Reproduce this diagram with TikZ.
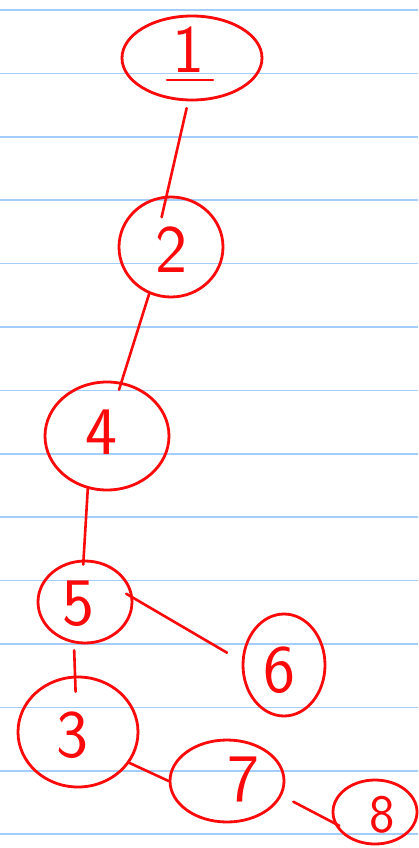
\documentclass[tikz,border=0pt]{standalone}
\usepackage{tikz}
\usetikzlibrary{shapes.geometric}
\definecolor{ink}{RGB}{250,10,10}
\definecolor{rule}{RGB}{165,205,250}

\begin{document}
\begin{tikzpicture}[
    x=1pt, y=-1pt,
    vertex/.style={draw=ink, ellipse, line width=2.8pt, inner sep=0pt},
    digit/.style={text=ink, inner sep=0pt, font=\fontsize{68}{68}\sffamily},
    edge/.style={draw=ink, line width=2.6pt, line cap=round}
]
    % paper and ruled lines
    \fill[white] (0,0) rectangle (418,848);
    \useasboundingbox (0,0) rectangle (418,848);
    \foreach \k in {0,...,13}
        \draw[rule, line width=1.6pt] (0,{10+63.4*\k}) -- (418,{10+63.4*\k});

    \node[vertex, minimum width=140pt, minimum height=84pt] (n1) at (192,58) {};
    \node[vertex, minimum width=104pt, minimum height=100pt] (n2) at (171,247) {};
    \node[vertex, minimum width=124pt, minimum height=108pt] (n4) at (107,436) {};
    \node[vertex, minimum width=94pt, minimum height=82pt] (n5) at (85,602) {};
    \node[vertex, minimum width=82pt, minimum height=102pt] (n6) at (284,665) {};
    \node[vertex, minimum width=120pt, minimum height=110pt] (n3) at (78,732) {};
    \node[vertex, minimum width=114pt, minimum height=82pt] (n7) at (227,781) {};
    \node[vertex, minimum width=84pt, minimum height=64pt] (n8) at (375,812) {};

    % digits
    \node[digit] (t1) at (188,50) {1};
    \draw[edge, line width=2.2pt] ([xshift=-21pt, yshift=-7pt]t1.south) -- ([xshift=25pt, yshift=-7pt]t1.south);
    \node[digit] (t2) at (171,250) {2};
    \node[digit] (t4) at (101,432) {4};
    \node[digit] (t5) at (78,604) {5};
    \node[digit] (t6) at (279,670) {6};
    \node[digit] (t3) at (72,735) {3};
    \node[digit] (t7) at (243,779) {7};
    \node[digit, font=\fontsize{54}{54}\sffamily] (t8) at (382,815) {8};

    \draw[edge, shorten <=7pt, shorten >=-22pt] (n1.265) -- (n2.95);
    \draw[edge, shorten >=-8pt] (n2.245) -- (n4.75);
    \draw[edge, shorten >=-5pt] (n4.250) -- (n5.92);
    \draw[edge, shorten <=-8pt, shorten >=17pt] (n5.5) -- (n6.175);
    \draw[edge, shorten <=7pt, shorten >=-16pt] (n5.255) -- (n3.93);
    \draw[edge] (n3.-31) -- (n7.180);
    \draw[edge, shorten <=13pt, shorten >=-6pt] (n7.-15) -- (n8.195);
\end{tikzpicture}
\end{document}
